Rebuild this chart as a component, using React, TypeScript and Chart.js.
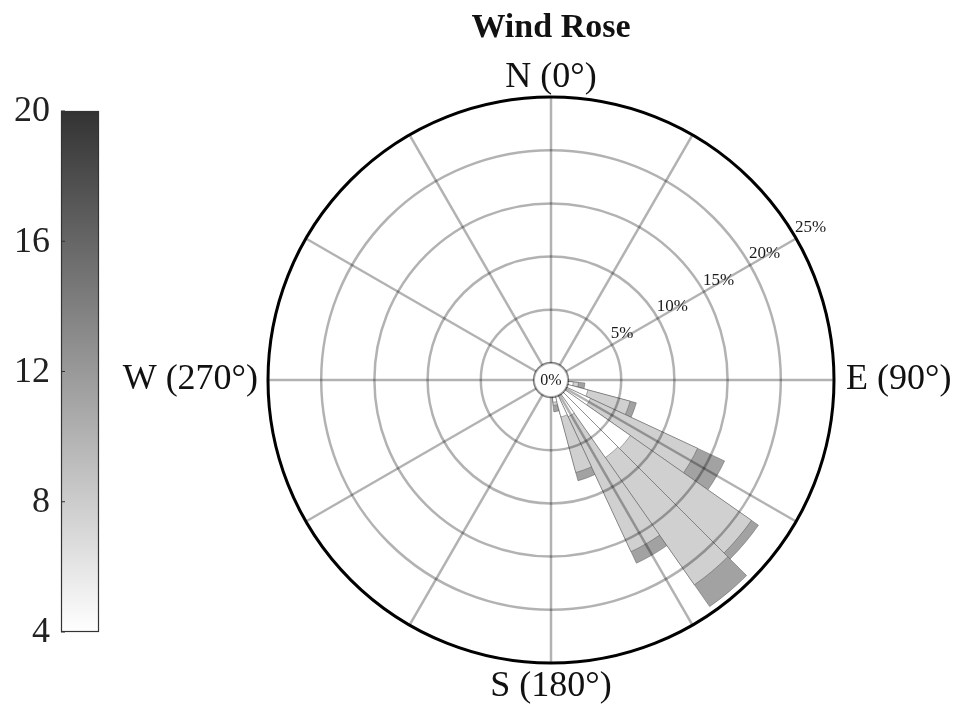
import React, { useEffect, useRef } from 'react';
import { Chart, registerables } from 'chart.js';

Chart.register(...registerables);

// ---- Data ----
const directionsDeg = [100, 110, 120, 130, 140, 150, 160, 170];
const speedBins = ['4–7', '7–11', '11–14'];
const freqBin1 = [0.5, 2.0, 2.5, 7.5, 7.3, 2.2, 2.0, 0.5];
const freqBin2 = [0.5, 4.1, 11.1, 13.9, 14.6, 14.0, 5.4, 0.3];
const freqBin3 = [0.6, 0.6, 2.8, 0.8, 2.5, 1.2, 0.8, 0.6];
const radialTicks = [0, 5, 10, 15, 20, 25];
const spokeLabels = ['0°', '30°', '60°', '90°', '120°', '150°', '180°', '210°', '240°', '270°', '300°', '330°'];
const compassLabels = ['N (0°)', 'E (90°)', 'S (180°)', 'W (270°)'];
const colorbarTicks = [4, 8, 12, 16, 20];
const titleText = 'Wind Rose';

// ---- Styles ----
const binColors = ['#ffffff', '#d0d0d0', '#a2a2a2'];
const BIN_WIDTH = 10;
const N_BINS = 360 / BIN_WIDTH;
const R_OFFSET_PCT = 1.598; // radius of the 0% hole expressed in %
const LABEL_SPOKE_DEG = 60;
const SERIF = '"Liberation Serif", "Times New Roman", serif';

function cumulative(level: number): number[] {
  const bins = [freqBin1, freqBin2, freqBin3];
  return directionsDeg.map((_, i) => {
    let s = 0;
    for (let k = 0; k <= level; k++) s += bins[k][i];
    return +s.toFixed(3);
  });
}

function sectorData(values: number[]): number[] {
  const out: number[] = [];
  for (let e = 0; e <= N_BINS; e++) {
    const deg = (e % N_BINS) * BIN_WIDTH;
    const idx = directionsDeg.indexOf(deg);
    out.push(idx >= 0 ? values[idx] : 0);
  }
  return out;
}

const overlayPlugin = {
  id: 'overlay',
  afterDraw(chart: any) {
    const ctx: CanvasRenderingContext2D = chart.ctx;
    const s = chart.scales.r;
    const cx = s.xCenter;
    const cy = s.yCenter;
    const R = s.getDistanceFromCenterForValue(radialTicks[radialTicks.length - 1]);
    const r0 = s.getDistanceFromCenterForValue(0);
    ctx.save();

    // center hole
    ctx.beginPath();
    ctx.arc(cx, cy, r0, 0, Math.PI * 2);
    ctx.fillStyle = '#ffffff';
    ctx.fill();
    ctx.lineWidth = 2;
    ctx.strokeStyle = 'rgba(0,0,0,0.3)';
    ctx.stroke();
    ctx.fillStyle = '#1a1a1a';
    ctx.font = `16px ${SERIF}`;
    ctx.textAlign = 'center';
    ctx.textBaseline = 'middle';
    ctx.fillText('0%', cx, cy + 1);

    // radial tick labels along the 60° spoke
    const a = (LABEL_SPOKE_DEG * Math.PI) / 180;
    ctx.font = `17px ${SERIF}`;
    ctx.textAlign = 'left';
    ctx.textBaseline = 'alphabetic';
    radialTicks.slice(1).forEach((v) => {
      const r = s.getDistanceFromCenterForValue(v);
      ctx.fillText(`${v}%`, cx + r * Math.sin(a) - 1, cy - r * Math.cos(a) - 7);
    });

    // compass labels
    ctx.fillStyle = '#111';
    ctx.font = `36px ${SERIF}`;
    ctx.textBaseline = 'middle';
    ctx.textAlign = 'center';
    ctx.fillText(compassLabels[0], cx, cy - R - 19);
    ctx.fillText(compassLabels[2], cx, cy + R + 24);
    ctx.textAlign = 'left';
    ctx.fillText(compassLabels[1], cx + R + 12, cy);
    ctx.textAlign = 'right';
    ctx.fillText(compassLabels[3], cx - R - 10, cy);

    // title
    ctx.font = `bold 34px ${SERIF}`;
    ctx.textAlign = 'center';
    ctx.fillText(titleText, cx, 28);

    // colorbar
    const cbX = 61, cbW = 38, cbTop = 111, cbBottom = 632;
    const vMin = colorbarTicks[0];
    const vMax = colorbarTicks[colorbarTicks.length - 1];
    const grad = ctx.createLinearGradient(0, cbBottom, 0, cbTop);
    grad.addColorStop(0, '#ffffff');
    grad.addColorStop(1, '#333333');
    ctx.fillStyle = grad;
    ctx.fillRect(cbX, cbTop, cbW, cbBottom - cbTop);
    ctx.lineWidth = 1.2;
    ctx.strokeStyle = '#333';
    ctx.strokeRect(cbX + 0.5, cbTop + 0.5, cbW - 1, cbBottom - cbTop - 1);
    ctx.fillStyle = '#222';
    ctx.font = `36px ${SERIF}`;
    ctx.textAlign = 'right';
    ctx.textBaseline = 'middle';
    colorbarTicks.forEach((t) => {
      const y = cbBottom - ((t - vMin) / (vMax - vMin)) * (cbBottom - cbTop);
      ctx.fillText(String(t), 50, y + 1);
      ctx.beginPath();
      ctx.moveTo(cbX, y);
      ctx.lineTo(cbX + 4, y);
      ctx.strokeStyle = '#333';
      ctx.lineWidth = 1;
      ctx.stroke();
    });

    ctx.restore();
  },
};

export default function App() {
  const canvasRef = useRef<HTMLCanvasElement | null>(null);

  useEffect(() => {
    const canvas = canvasRef.current;
    if (!canvas) return;
    const datasets = speedBins.map((bin, level) => {
      const data = sectorData(cumulative(level));
      const color = binColors[level];
      return {
        label: bin,
        data,
        angle: (c: any) => (c.dataIndex === 0 || c.dataIndex === N_BINS ? BIN_WIDTH / 2 : BIN_WIDTH),
        backgroundColor: (c: any) => (c.raw > 0 ? color : 'rgba(0,0,0,0)'),
        borderColor: (c: any) => (c.raw > 0 ? 'rgba(80,80,80,0.45)' : 'rgba(0,0,0,0)'),
        borderWidth: 1,
      };
    });

    const chart = new Chart(canvas, {
      type: 'polarArea',
      data: { labels: spokeLabels, datasets: datasets as any },
      options: {
        animation: false,
        responsive: false,
        maintainAspectRatio: false,
        layout: { padding: { left: 268, right: 121, top: 97, bottom: 41 } },
        plugins: { legend: { display: false }, tooltip: { enabled: false }, title: { display: false } },
        scales: {
          r: {
            min: -R_OFFSET_PCT,
            max: radialTicks[radialTicks.length - 1],
            startAngle: 0,
            ticks: { display: false },
            afterBuildTicks: (sc: any) => {
              sc.ticks = radialTicks.map((v) => ({ value: v }));
            },
            grid: {
              z: 1,
              circular: true,
              color: (c: any) => (c.tick && c.tick.value === radialTicks[radialTicks.length - 1] ? '#000000' : 'rgba(0,0,0,0.3)'),
              lineWidth: (c: any) => (c.tick && c.tick.value === radialTicks[radialTicks.length - 1] ? 3 : 2.5),
            },
            angleLines: { display: true, color: 'rgba(0,0,0,0.3)', lineWidth: 2.5 },
            pointLabels: { display: false },
          } as any,
        },
      },
      plugins: [overlayPlugin],
    } as any);

    return () => chart.destroy();
  }, []);

  return (
    <div style={{ position: 'absolute', left: 0, top: 0, width: 955, height: 704, background: '#fff' }}>
      <canvas ref={canvasRef} width={955} height={704} style={{ display: 'block' }} />
    </div>
  );
}
